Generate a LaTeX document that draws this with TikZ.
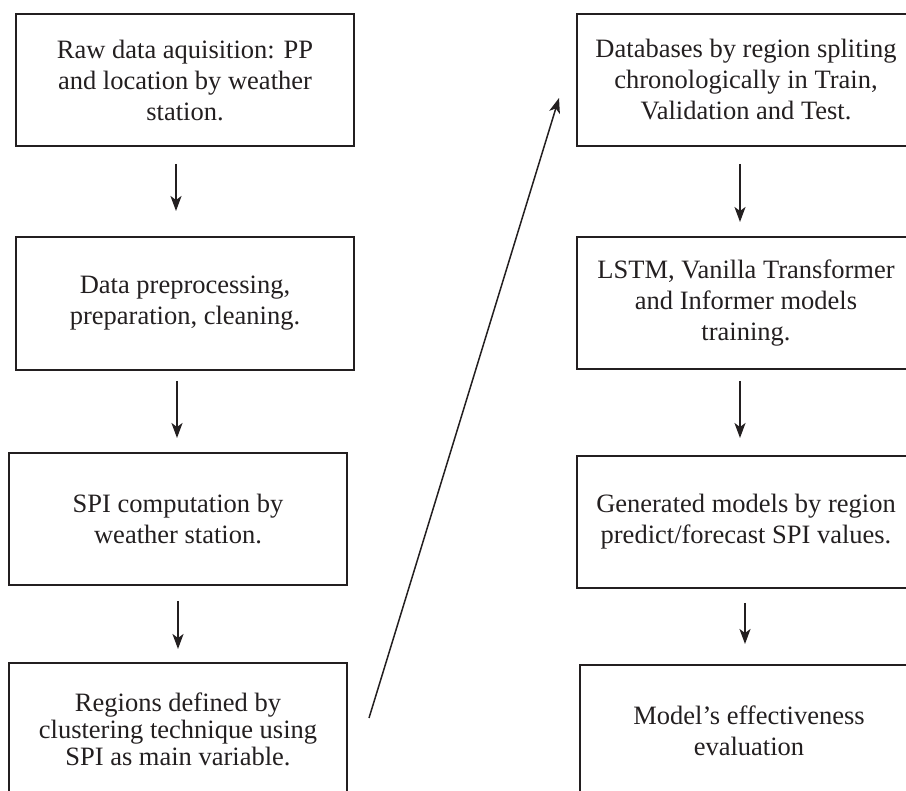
\documentclass[tikz,border=0pt]{standalone}
\usepackage{fontspec}
\setmainfont{Liberation Serif}
\usetikzlibrary{arrows.meta}
\definecolor{ink}{HTML}{231F20}
\tikzset{
  stepbox/.style={draw=ink, line width=2pt, minimum width=338pt, minimum height=132pt,
    inner sep=0pt, align=center, text=ink,
    font=\fontsize{26.5pt}{31pt}\selectfont},
  flow/.style={draw=ink, line width=2pt, -{Stealth[length=15pt, width=11pt, inset=4pt]}},
  jump/.style={draw=ink, line width=1.5pt, -{Stealth[length=15pt, width=11pt, inset=4pt]}}
}
\begin{document}
\begin{tikzpicture}[x=1pt, y=-1pt]
\useasboundingbox (0,0) rectangle (906,791);
\clip (0,0) rectangle (906,791);

% left column
\node[stepbox] (b1) at (185,80) {Raw data aquisition: PP\\and location by weather\\station.};
\node[stepbox, minimum height=133pt] (b2) at (185,303.5) {Data preprocessing,\\preparation, cleaning.};
\node[stepbox] (b3) at (178,519) {SPI computation by\\weather station.};
\node[stepbox, font=\fontsize{26.5pt}{27pt}\selectfont] (b4) at (178,729) {Regions defined by\\clustering technique using\\SPI as main variable.};

% right column
\node[stepbox] (b5) at (746,80) {Databases by region spliting\\chronologically in Train,\\Validation and Test.};
\node[stepbox] (b6) at (746,303) {LSTM, Vanilla Transformer\\and Informer models\\training.};
\node[stepbox] (b7) at (746,522) {Generated models by region\\predict/forecast SPI values.};
\node[stepbox] (b8) at (749,731) {Model’s effectiveness\\evaluation};

% connectors
\draw[flow, shorten <=17pt, shorten >=25pt] ([xshift=-9pt]b1.south) -- ([xshift=-9pt]b2.north);
\draw[flow, shorten <=10pt, shorten >=14pt] ([xshift=-8pt]b2.south) -- ([xshift=-1pt]b3.north);
\draw[flow, shorten <=15pt, shorten >=13pt] (b3.south) -- (b4.north);
\draw[jump] ([shift={(21,-11)}]b4.east) -- ([shift={(-17,18)}]b5.west);
\draw[flow, shorten <=17pt, shorten >=14pt] ([xshift=-6pt]b5.south) -- ([xshift=-6pt]b6.north);
\draw[flow, shorten <=11pt, shorten >=17pt] ([xshift=-6pt]b6.south) -- ([xshift=-6pt]b7.north);
\draw[flow, shorten <=14pt, shorten >=20pt] ([xshift=-1pt]b7.south) -- ([xshift=-4pt]b8.north);
\end{tikzpicture}
\end{document}
